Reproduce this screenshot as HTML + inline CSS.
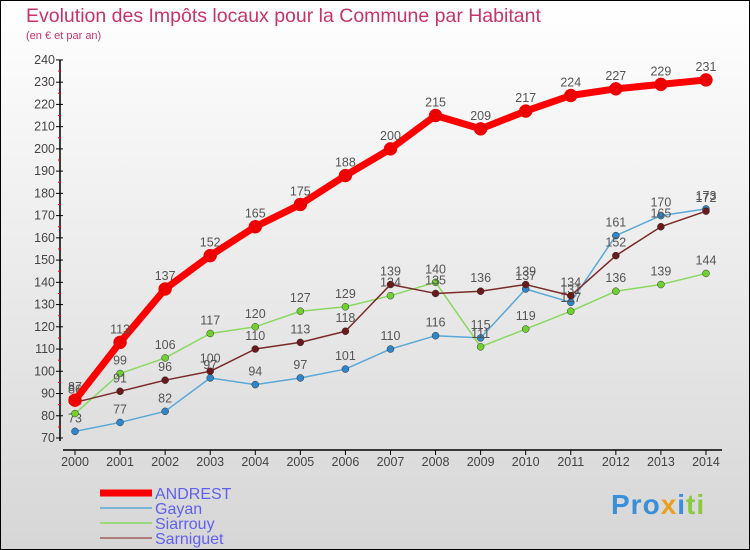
<!DOCTYPE html>
<html><head><meta charset="utf-8"><style>
body{margin:0}
#c{width:750px;height:550px;position:relative;box-sizing:border-box;border:1px solid #000;background:linear-gradient(#fff,#d6d6d6);font-family:"Liberation Sans",sans-serif;overflow:hidden}
</style></head><body>
<div id="c">
<svg id="s" width="750" height="550" style="position:absolute;left:-1px;top:-1px;font-family:'Liberation Sans',sans-serif">
<text x="26" y="22" font-size="19.5" fill="#c8336a">Evolution des Impôts locaux pour la Commune par Habitant</text>
<text x="26" y="39" font-size="11" fill="#c8336a">(en € et par an)</text>
</svg>
<div style="position:absolute;left:610px;top:488px;font-size:28px;font-weight:bold;letter-spacing:1px;font-family:'Liberation Sans',sans-serif"><span style="color:#3a8fd8">Pro</span><span style="color:#e8a020">x</span><span style="color:#3a8fd8">i</span><span style="color:#8cc840">ti</span></div>
</div>
<script>
const years=[2000,2001,2002,2003,2004,2005,2006,2007,2008,2009,2010,2011,2012,2013,2014];
const andrest=[87,113,137,152,165,175,188,200,215,209,217,224,227,229,231];
const gayan=[73,77,82,97,94,97,101,110,116,115,137,131,161,170,173];
const siarrouy=[81,99,106,117,120,127,129,134,140,111,119,127,136,139,144];
const sarniguet=[86,91,96,100,110,113,118,139,135,136,139,134,152,165,172];
const yTicks=[70,80,90,100,110,120,130,140,150,160,170,180,190,200,210,220,230,240];
const names=["ANDREST","Gayan","Siarrouy","Sarniguet"];
const s=document.getElementById('s');const NS="http://www.w3.org/2000/svg";
const X=i=>75+i*45.07, Y=v=>438-(v-70)*2.224;
function el(t,a,p){const e=document.createElementNS(NS,t);for(const k in a)e.setAttribute(k,a[k]);(p||s).appendChild(e);return e;}
let e=el('line',{x1:60,y1:60,x2:60,y2:441,stroke:'#000','stroke-width':1.5});


e=el('line',{x1:63,y1:450,x2:722,y2:450,stroke:'#000','stroke-width':1.5});


yTicks.forEach(v=>{el('line',{x1:56,x2:63,y1:Y(v),y2:Y(v),stroke:'#000'});
 if(v<240)el('line',{x1:58,x2:61,y1:Y(v+5),y2:Y(v+5),stroke:'#f00'});
 const t=el('text',{x:55,y:Y(v)+4,'text-anchor':'end','font-size':12.5,fill:'#444'});t.textContent=v;
 
 });
years.forEach((y,i)=>{el('line',{x1:X(i),x2:X(i),y1:450,y2:455,stroke:'#000'});
 const t=el('text',{x:X(i),y:466,'text-anchor':'middle','font-size':12.5,fill:'#444'});t.textContent=y;
 
 });
const series=[[gayan,'#5aa8d8','#2e86c8',1.5,3.5],[siarrouy,'#8ad860','#70d030',1.5,3.5],[sarniguet,'#7a2a2a','#6a1a1a',1.5,3.5],[andrest,'#f00','#e00',7,6.5]];
[0,1,2,3].forEach(k=>{const [d,c,m,w,r]=series[k];
 const g=el('g',{});
 el('polyline',{points:d.map((v,i)=>X(i)+','+Y(v)).join(' '),fill:'none',stroke:c,'stroke-width':w,'stroke-linejoin':'round'},g);
 d.forEach((v,i)=>{const p=el('circle',{cx:X(i),cy:Y(v),r:r,fill:m,stroke:k==3?'#e00':'#333','stroke-width':0.5},g);
  
  
  const t=el('text',{x:X(i),y:Y(v)-9,'text-anchor':'middle','font-size':12.5,fill:'#555'},g);t.textContent=v;});});
const leg=[['ANDREST','#f00',7],['Gayan','#5aa8d8',1.5],['Siarrouy','#8ad860',1.5],['Sarniguet','#a06060',1.5]];
leg.forEach((l,i)=>{const y=493+i*15;
 const g=el('g',{});
 el('line',{x1:100,x2:152,y1:y,y2:y,stroke:l[1],'stroke-width':l[2]},g);
 const t=el('text',{x:155,y:y+6,'font-size':16,fill:'#6060f0'},g);t.textContent=l[0];});
</script>
</body></html>
